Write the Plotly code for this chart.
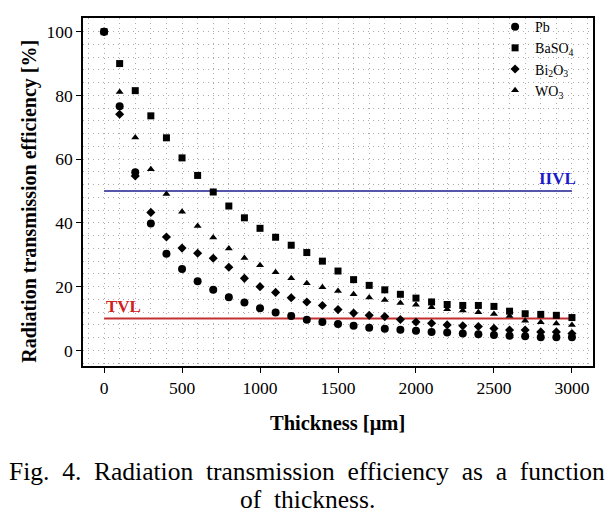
import plotly.graph_objects as go

thickness = [0, 100, 200, 300, 400, 500, 600, 700, 800, 900, 1000, 1100, 1200, 1300, 1400, 1500,
             1600, 1700, 1800, 1900, 2000, 2100, 2200, 2300, 2400, 2500, 2600, 2700, 2800, 2900, 3000]

pb = [100, 76.6, 55.9, 39.8, 30.3, 25.5, 21.7, 19.0, 16.7, 15.0, 13.2, 11.9, 10.8, 9.6, 8.9, 8.3,
      7.7, 7.1, 6.8, 6.5, 6.2, 5.8, 5.6, 5.3, 5.1, 4.8, 4.6, 4.4, 4.1, 4.1, 4.1]
baso4 = [100, 90.0, 81.5, 73.6, 66.7, 60.4, 54.9, 49.7, 45.3, 41.6, 38.3, 35.5, 33.0, 30.7, 28.0, 24.9,
         22.2, 20.4, 19.0, 17.6, 16.4, 15.2, 14.4, 14.1, 14.1, 13.8, 12.3, 11.5, 11.3, 11.0, 10.3]
bi2o3 = [100, 74.1, 54.7, 43.3, 35.6, 32.1, 30.5, 28.9, 26.1, 22.6, 20.0, 18.2, 16.5, 15.2, 14.1, 12.8,
         11.7, 11.0, 10.6, 9.7, 8.9, 8.5, 8.0, 7.7, 7.5, 6.9, 6.4, 6.4, 5.8, 5.8, 5.3]
wo3 = [100, 81.1, 66.8, 56.8, 49.1, 43.5, 39.0, 35.4, 32.0, 29.0, 26.7, 24.5, 22.6, 21.1, 19.8, 18.6,
       17.6, 16.6, 15.8, 14.9, 14.3, 13.5, 12.9, 12.5, 12.0, 11.4, 10.8, 9.3, 8.8, 8.4, 8.0]

series_names = ["Pb", "BaSO<sub>4</sub>", "Bi<sub>2</sub>O<sub>3</sub>", "WO<sub>3</sub>"]
series_values = [pb, baso4, bi2o3, wo3]
series_symbols = ["circle", "square", "diamond", "triangle-up"]
series_sizes = [8, 7, 7, 7]

ref_x = [0, 3000]
iivl_y = [50, 50]
tvl_y = [10, 10]

x_ticks = [0, 500, 1000, 1500, 2000, 2500, 3000]
y_ticks = [0, 20, 40, 60, 80, 100]

SERIF = "Liberation Serif, Times New Roman, serif"
NB = "\u00a0"

fig = go.Figure()

fig.add_trace(go.Scatter(x=ref_x, y=iivl_y, mode="lines", line=dict(color="#1c1c8e", width=1.5),
                         showlegend=False, hoverinfo="skip"))
fig.add_trace(go.Scatter(x=ref_x, y=tvl_y, mode="lines", line=dict(color="#c43030", width=2),
                         showlegend=False, hoverinfo="skip"))

for name, vals, sym, sz in zip(series_names, series_values, series_symbols, series_sizes):
    fig.add_trace(go.Scatter(x=thickness, y=vals, mode="markers", name=name,
                             marker=dict(symbol=sym, size=sz, color="black", line=dict(width=0))))

fig.add_annotation(x=3000, y=50, xref="x", yref="y", text="<b>IIVL</b>", showarrow=False,
                   xanchor="right", yanchor="bottom", yshift=1, xshift=6,
                   font=dict(family=SERIF, size=17, color="#1a1ac8"))
fig.add_annotation(x=0, y=10, xref="x", yref="y", text="<b>TVL</b>", showarrow=False,
                   xanchor="left", yanchor="bottom", yshift=1,
                   font=dict(family=SERIF, size=17, color="#d02020"))

fig.add_annotation(x=0.499, y=-0.166, xref="paper", yref="paper", text="<b>Thickness [μm]</b>",
                   showarrow=False, xanchor="center", yanchor="middle",
                   font=dict(family=SERIF, size=20.5, color="black"))
fig.add_annotation(x=-0.104, y=0.475, xref="paper", yref="paper",
                   text="<b>Radiation transmission efficiency [%]</b>", textangle=-90,
                   showarrow=False, xanchor="center", yanchor="middle",
                   font=dict(family=SERIF, size=20, color="black"))

caption1 = (" " + NB).join(["Fig.", "4.", "Radiation", "transmission", "efficiency", "as", "a", "function"])
caption2 = (" " + NB).join(["of", "thickness."])
fig.add_annotation(x=0.44, y=-0.304, xref="paper", yref="paper", text=caption1,
                   showarrow=False, xanchor="center", yanchor="middle",
                   font=dict(family=SERIF, size=25.5, color="black"))
fig.add_annotation(x=0.44, y=-0.383, xref="paper", yref="paper", text=caption2,
                   showarrow=False, xanchor="center", yanchor="middle",
                   font=dict(family=SERIF, size=25.5, color="black"))

grid_color = "#ababab"
fig.update_xaxes(range=[-135, 3135], tickvals=x_ticks, ticks="outside", ticklen=5, tickcolor="black",
                 showline=True, linecolor="black", linewidth=1.5, mirror=True,
                 showgrid=True, gridcolor=grid_color, griddash="1px,4px", gridwidth=1,
                 minor=dict(dtick=100, tick0=0, showgrid=True, gridcolor=grid_color,
                            griddash="1px,4px", gridwidth=1),
                 zeroline=False, tickfont=dict(family=SERIF, size=17.5, color="black"))
fig.update_yaxes(range=[-4.9, 104.3], tickvals=y_ticks, ticks="outside", ticklen=5, tickcolor="black",
                 showline=True, linecolor="black", linewidth=1.5, mirror=True,
                 showgrid=True, gridcolor=grid_color, griddash="1px,4px", gridwidth=1,
                 minor=dict(dtick=4, tick0=0, showgrid=True, gridcolor=grid_color,
                            griddash="1px,4px", gridwidth=1),
                 zeroline=False, tickfont=dict(family=SERIF, size=17.5, color="black"))

fig.update_layout(width=615, height=519, margin=dict(l=83, r=22, t=11, b=153),
                  plot_bgcolor="white", paper_bgcolor="white",
                  legend=dict(x=0.808, y=1.02, xanchor="left", yanchor="top",
                              bgcolor="rgba(0,0,0,0)", font=dict(family=SERIF, size=14, color="black"),
                              tracegroupgap=0, itemwidth=30),
                  showlegend=True)

fig.write_html("out.html", config={"displayModeBar": False},
               post_script="document.body.style.margin='0px';")
